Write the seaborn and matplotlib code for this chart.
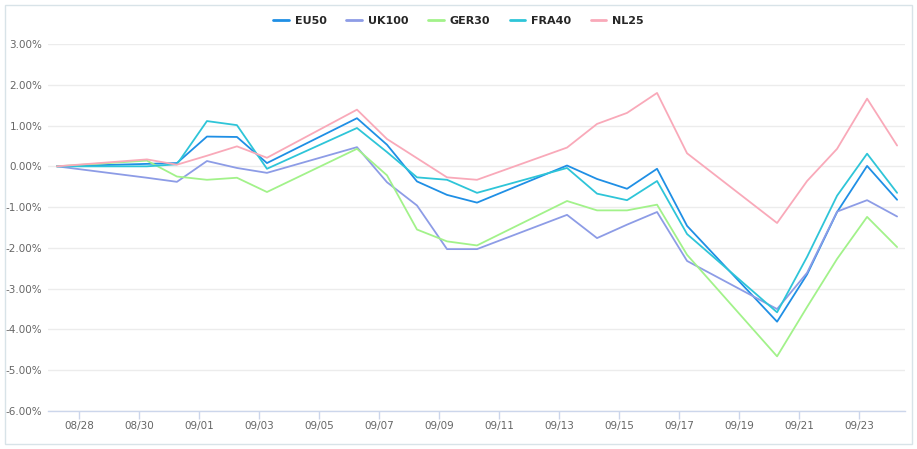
import matplotlib
matplotlib.use('Agg')
import matplotlib.pyplot as plt
import matplotlib.dates as mdates
from matplotlib.patches import Rectangle
from matplotlib.ticker import FuncFormatter, MultipleLocator
import pandas as pd
import seaborn as sns

# Trading days
dates = ['2020-08-28', '2020-08-31', '2020-09-01', '2020-09-02', '2020-09-03',
         '2020-09-04', '2020-09-07', '2020-09-08', '2020-09-09', '2020-09-10',
         '2020-09-11', '2020-09-14', '2020-09-15', '2020-09-16', '2020-09-17',
         '2020-09-18', '2020-09-21', '2020-09-22', '2020-09-23', '2020-09-24',
         '2020-09-25']

# Cumulative change in percent
eu50 = [0.00, 0.06, 0.08, 0.73, 0.72, 0.08, 1.18, 0.53, -0.37, -0.70, -0.89,
        0.02, -0.31, -0.55, -0.06, -1.46, -3.81, -2.65, -1.12, 0.01, -0.82]
uk100 = [0.00, -0.28, -0.38, 0.13, -0.04, -0.16, 0.47, -0.39, -0.96, -2.03, -2.03,
         -1.19, -1.76, -1.43, -1.12, -2.32, -3.50, -2.61, -1.11, -0.83, -1.23]
ger30 = [0.00, 0.14, -0.25, -0.33, -0.28, -0.63, 0.43, -0.22, -1.55, -1.84, -1.94,
         -0.85, -1.08, -1.08, -0.94, -2.17, -4.66, -3.45, -2.27, -1.24, -1.98]
fra40 = [0.00, 0.00, 0.05, 1.11, 1.01, -0.06, 0.94, 0.35, -0.27, -0.33, -0.65,
         -0.04, -0.67, -0.83, -0.36, -1.66, -3.58, -2.22, -0.72, 0.31, -0.65]
nl25 = [0.00, 0.17, 0.04, 0.26, 0.49, 0.21, 1.39, 0.67, 0.20, -0.27, -0.33,
        0.46, 1.04, 1.31, 1.80, 0.32, -1.39, -0.36, 0.43, 1.66, 0.51]

series = {'EU50': eu50, 'UK100': uk100, 'GER30': ger30, 'FRA40': fra40, 'NL25': nl25}
colors = {'EU50': '#1f8fe5', 'UK100': '#8d9ce6', 'GER30': '#a2f28a',
          'FRA40': '#2ec5d8', 'NL25': '#f9a9b9'}

# timestamps are shown shifted (timezone offset in the source chart)
x = pd.to_datetime(dates) - pd.Timedelta(hours=17.6)
frames = []
for name, vals in series.items():
    frames.append(pd.DataFrame({'date': x, 'value': vals, 'index': name}))
df = pd.concat(frames, ignore_index=True)

sns.set_style('white')
plt.rcParams['font.family'] = ['DejaVu Sans']

fig = plt.figure(figsize=(9.17, 4.49), dpi=100)
ax = fig.add_axes([48 / 917, 1 - 411 / 449, (905 - 48) / 917, (411 - 44) / 449])

sns.lineplot(data=df, x='date', y='value', hue='index', palette=colors,
             linewidth=1.3, ax=ax, legend=False)

# outer frame
fig.patches.append(Rectangle((5 / 917, 5 / 449), 907 / 917, 439 / 449,
                             transform=fig.transFigure, fill=False,
                             edgecolor='#d8e3e8', linewidth=1.0))

ax.set_ylim(-6, 3)
ax.yaxis.set_major_locator(MultipleLocator(1))
ax.yaxis.set_major_formatter(FuncFormatter(lambda v, p: '%.2f%%' % v))
ax.grid(axis='y', color='#ececec', linewidth=1.0)
ax.grid(axis='x', visible=False)

start = pd.Timestamp('2020-08-28')
ax.set_xlim(start - pd.Timedelta(days=1.03), start + pd.Timedelta(days=27.53))
ax.xaxis.set_major_locator(mdates.DayLocator(bymonthday=[28, 30, 1, 3, 5, 7, 9, 11, 13, 15, 17, 19, 21, 23]))
ax.xaxis.set_major_formatter(mdates.DateFormatter('%m/%d'))

for s in ['top', 'right', 'left']:
    ax.spines[s].set_visible(False)
ax.spines['bottom'].set_color('#ccd6eb')
ax.spines['bottom'].set_linewidth(1.0)
ax.spines['bottom'].set_zorder(3)
ax.tick_params(axis='x', bottom=True, labelcolor='#666666', color='#ccd6eb',
               labelsize=7.5, length=6, width=1.0, direction='out', pad=1)
ax.tick_params(axis='y', left=False, labelcolor='#666666', labelsize=7.5,
               length=0, pad=4)
ax.set_xlabel('')
ax.set_ylabel('')

# legend on top
handles = [plt.Line2D([], [], color=colors[n], linewidth=2) for n in series]
fig.legend(handles, list(series.keys()), loc='center', bbox_to_anchor=(0.5, 1 - 21 / 449),
           ncol=5, frameon=False, handlelength=1.4, handletextpad=0.5,
           columnspacing=1.8, prop={'weight': 'bold', 'size': 8})

fig.savefig('out.png', dpi=100)
